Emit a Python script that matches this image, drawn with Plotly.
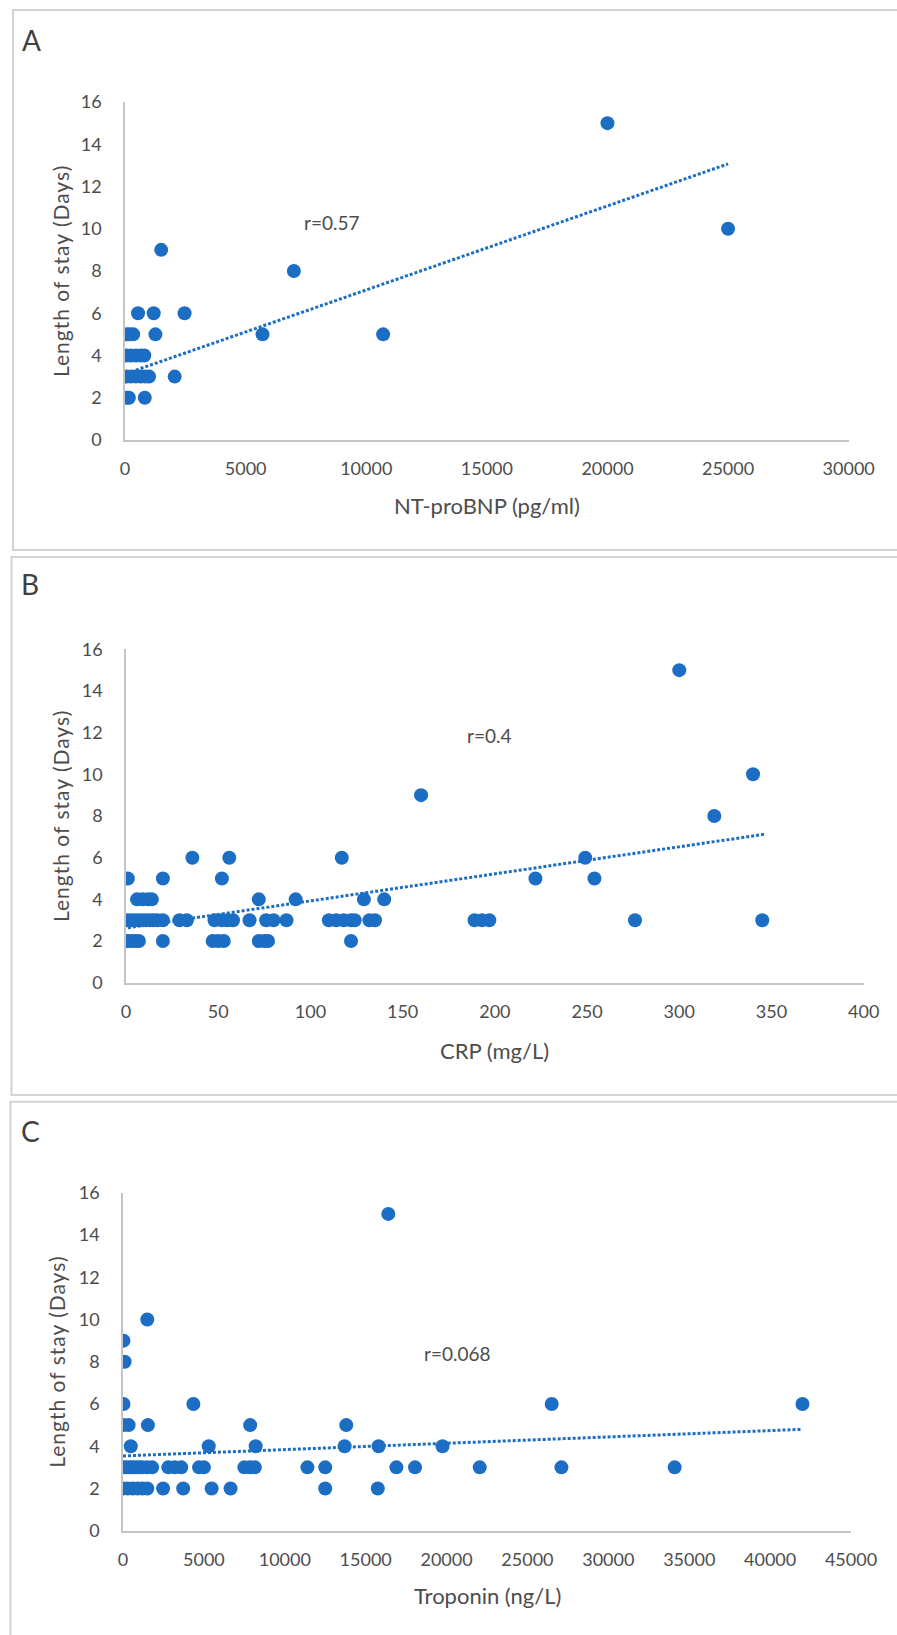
import plotly.graph_objects as go

W, H = 897, 1635

# ---------------- Data ----------------
# Panel A: NT-proBNP (pg/ml) vs length of stay (days)
bnp_x = [20000, 25000, 1500, 7000,
         540, 1190, 2470,
         60, 200, 340, 1260, 5700, 10700,
         60, 250, 450, 650, 800,
         60, 250, 450, 650, 850, 1000, 2060,
         75, 160, 820]
bnp_y = [15, 10, 9, 8,
         6, 6, 6,
         5, 5, 5, 5, 5, 5,
         4, 4, 4, 4, 4,
         3, 3, 3, 3, 3, 3, 3,
         2, 2, 2]
bnp_trend_x = [60, 25000]
bnp_trend_y = [3.15, 13.07]

# Panel B: CRP (mg/L) vs length of stay (days)
crp_x = [300, 340, 160, 319,
         36, 56, 117, 249,
         1, 20, 52, 222, 254,
         6, 9, 12, 14, 72, 92, 129, 140,
         1, 3, 5, 7, 9, 11, 13, 15, 17, 20, 29, 33, 48, 52, 55, 58, 67, 76, 80, 87,
         110, 114, 118, 122, 124, 132, 135, 189, 193, 197, 276, 345,
         1, 3, 5, 7, 20, 47, 50, 53, 72, 75, 77, 122]
crp_y = [15, 10, 9, 8,
         6, 6, 6, 6,
         5, 5, 5, 5, 5,
         4, 4, 4, 4, 4, 4, 4, 4,
         3, 3, 3, 3, 3, 3, 3, 3, 3, 3, 3, 3, 3, 3, 3, 3, 3, 3, 3, 3,
         3, 3, 3, 3, 3, 3, 3, 3, 3, 3, 3, 3,
         2, 2, 2, 2, 2, 2, 2, 2, 2, 2, 2, 2]
crp_trend_x = [1, 346]
crp_trend_y = [2.64, 7.12]

# Panel C: Troponin (ng/L) vs length of stay (days)
trop_x = [16400, 1500, 30, 100,
          30, 4350, 26500, 42000,
          30, 350, 1540, 7860, 13800,
          480, 5300, 8200, 13700, 15800, 19750,
          0, 200, 400, 600, 800, 1000, 1200, 1500, 1800, 2800, 3200, 3600, 4700, 5000,
          7500, 7850, 8150, 11400, 12500, 16900, 18050, 22050, 27100, 34100,
          0, 300, 600, 900, 1200, 1500, 2480, 3720, 5480, 6650, 12500, 15750]
trop_y = [15, 10, 9, 8,
          6, 6, 6, 6,
          5, 5, 5, 5, 5,
          4, 4, 4, 4, 4, 4,
          3, 3, 3, 3, 3, 3, 3, 3, 3, 3, 3, 3, 3, 3,
          3, 3, 3, 3, 3, 3, 3, 3, 3, 3,
          2, 2, 2, 2, 2, 2, 2, 2, 2, 2, 2, 2]
trop_trend_x = [0, 42000]
trop_trend_y = [3.54, 4.80]

panel_letters = ["A", "B", "C"]
x_titles = ["NT-proBNP (pg/ml)", "CRP (mg/L)", "Troponin (ng/L)"]
y_title = "Length of stay (Days)"
r_labels = ["r=0.57", "r=0.4", "r=0.068"]
r_pos_x = [8580, 197, 20700]
r_pos_y = [10.3, 11.85, 8.37]
x_ranges = [[0, 30000], [0, 400], [0, 45000]]
x_dticks = [5000, 50, 5000]

# ---------------- Style ----------------
BLUE = "#1c6ec4"
TICK_COLOR = "#4d4d4d"
AXIS_COLOR = "#c4c4c4"
FONT = "Lato, 'Open Sans', sans-serif"

def fx(px):
    return px / W

def fy(py):
    return 1 - py / H

# pixel geometry for each panel: (x0, x1, ytop, ybottom)
geo = [(125, 848.7, 102, 440),
       (126, 863.7, 649.3, 982.7),
       (123, 851, 1192.8, 1530.7)]
boxes = [(13, 10, 905, 550), (11.5, 557, 905, 1095), (10.5, 1101.7, 905, 1650)]
letter_pos = [(31.7, 40), (30, 584), (30, 1131)]
ytitle_x = [60, 60, 57]
xtitle_y = [505, 1050, 1595]

datasets = [(bnp_x, bnp_y, bnp_trend_x, bnp_trend_y),
            (crp_x, crp_y, crp_trend_x, crp_trend_y),
            (trop_x, trop_y, trop_trend_x, trop_trend_y)]

fig = go.Figure()
layout = dict(width=W, height=H, margin=dict(l=0, r=0, t=0, b=0, pad=0),
              paper_bgcolor="white", plot_bgcolor="white", showlegend=False,
              font=dict(family=FONT, color=TICK_COLOR))
annotations = []
shapes = []

for i, (xs, ys, tx, ty) in enumerate(datasets):
    n = "" if i == 0 else str(i + 1)
    xa, ya = "x" + n, "y" + n
    fig.add_trace(go.Scatter(x=xs, y=ys, mode="markers", xaxis=xa, yaxis=ya,
                             marker=dict(color=BLUE, size=14, line=dict(width=0)),
                             hoverinfo="x+y"))
    fig.add_trace(go.Scatter(x=tx, y=ty, mode="lines", xaxis=xa, yaxis=ya,
                             line=dict(color=BLUE, width=3, dash="3px,2px"),
                             hoverinfo="skip"))
    x0, x1, yt, yb = geo[i]
    layout["xaxis" + n] = dict(domain=[fx(x0), fx(x1)], range=x_ranges[i],
                               dtick=x_dticks[i], tick0=0, anchor=ya,
                               tickformat="d", automargin=False,
                               showgrid=False, zeroline=False, showline=True,
                               linecolor=AXIS_COLOR, linewidth=1.5, ticks="",
                               ticklabelstandoff=12,
                               tickfont=dict(family=FONT, size=18, color=TICK_COLOR))
    layout["yaxis" + n] = dict(domain=[fy(yb), fy(yt)], range=[0, 16], dtick=2,
                               anchor=xa, showgrid=False, zeroline=False,
                               automargin=False,
                               showline=True, linecolor=AXIS_COLOR, linewidth=1.5,
                               ticks="", ticklabelstandoff=18,
                               tickfont=dict(family=FONT, size=18, color=TICK_COLOR))
    bx0, by0, bx1, by1 = boxes[i]
    shapes.append(dict(type="rect", xref="paper", yref="paper",
                       x0=fx(bx0), x1=fx(bx1), y0=fy(by1), y1=fy(by0),
                       line=dict(color="#d4d4d4", width=2), layer="below"))
    lx, ly = letter_pos[i]
    annotations.append(dict(text=panel_letters[i], xref="paper", yref="paper",
                            x=fx(lx), y=fy(ly), showarrow=False,
                            xanchor="center", yanchor="middle",
                            font=dict(family=FONT, size=28, color="#404040")))
    annotations.append(dict(text="<span style='letter-spacing:1px'>" + y_title + "</span>",
                            xref="paper", yref="paper",
                            x=fx(ytitle_x[i]), y=fy((yt + yb) / 2), textangle=-90,
                            showarrow=False, xanchor="center", yanchor="middle",
                            font=dict(family=FONT, size=21, color=TICK_COLOR)))
    annotations.append(dict(text=x_titles[i], xref="paper", yref="paper",
                            x=fx((x0 + x1) / 2), y=fy(xtitle_y[i]),
                            showarrow=False, xanchor="center", yanchor="middle",
                            font=dict(family=FONT, size=22, color=TICK_COLOR)))
    annotations.append(dict(text=r_labels[i], xref=xa, yref=ya,
                            x=r_pos_x[i], y=r_pos_y[i], showarrow=False,
                            xanchor="center", yanchor="middle",
                            font=dict(family=FONT, size=19, color=TICK_COLOR)))

layout["annotations"] = annotations
layout["shapes"] = shapes
fig.update_layout(**layout)
fig.write_html("out.html", config={"displayModeBar": False},
               post_script="document.body.style.margin='0';"
                           "document.body.style.overflow='hidden';")
